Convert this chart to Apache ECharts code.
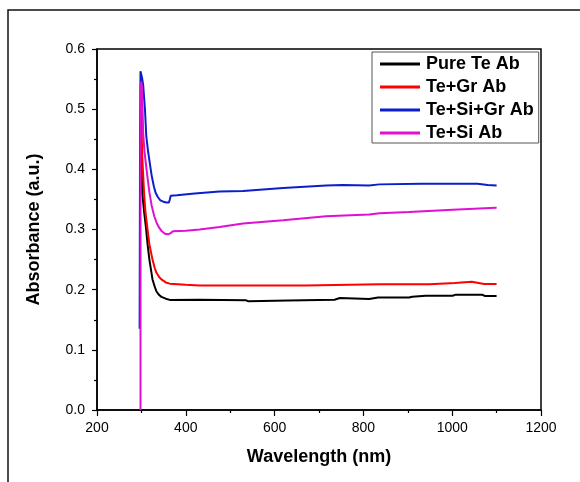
<!DOCTYPE html>
<html>
<head>
<meta charset="utf-8">
<script src="https://cdn.jsdelivr.net/npm/echarts@6/dist/echarts.min.js"></script>
<style>
  html, body { margin: 0; padding: 0; background: #fff; }
  #chart { width: 580px; height: 482px; }
</style>
</head>
<body>
<div id="chart"></div>
<script>
// wavelength (nm) / absorbance pairs
const pureTeX = [299, 301, 302, 306, 310, 314, 318, 325, 330, 334, 340, 345, 355, 364, 431, 535, 541, 545, 631, 634, 735, 747, 813, 833, 903, 910, 940, 1001, 1008, 1067, 1074, 1100]
const pureTeY = [0.45, 0.39, 0.361, 0.33, 0.305, 0.275, 0.25, 0.217, 0.205, 0.197, 0.191, 0.188, 0.185, 0.183, 0.1833, 0.1825, 0.1806, 0.182, 0.182, 0.1833, 0.1833, 0.1861, 0.1845, 0.187, 0.187, 0.1883, 0.19, 0.19, 0.1917, 0.1917, 0.1895, 0.1895]

const teGrX = [298, 300, 302, 306, 309, 313, 318, 325, 330, 334, 340, 345, 355, 364, 400, 431, 669, 672, 836, 948, 950, 1006, 1010, 1044, 1072, 1100]
const teGrY = [0.50, 0.48, 0.42, 0.361, 0.33, 0.305, 0.275, 0.25, 0.236, 0.228, 0.221, 0.217, 0.212, 0.21, 0.208, 0.207, 0.207, 0.209, 0.209, 0.209, 0.211, 0.211, 0.213, 0.213, 0.2095, 0.2095]

const teSiGrX = [296, 297, 298, 300, 302, 304, 308, 311, 315, 318, 323, 328, 332, 337, 342, 350, 356, 362, 364, 366, 380, 420, 476, 529, 619, 716, 753, 813, 836, 930, 1000, 1057, 1080, 1100]
const teSiGrY = [0.135, 0.465, 0.563, 0.56, 0.55, 0.54, 0.50, 0.455, 0.43, 0.415, 0.39, 0.372, 0.361, 0.354, 0.349, 0.346, 0.345, 0.345, 0.350, 0.356, 0.357, 0.360, 0.363, 0.364, 0.369, 0.373, 0.374, 0.373, 0.375, 0.376, 0.376, 0.376, 0.374, 0.373]

const teSiX = [298, 298, 300, 302, 304, 307, 310, 314, 318, 323, 329, 335, 340, 346, 353, 360, 366, 371, 400, 431, 476, 529, 619, 716, 813, 836, 903, 1001, 1098, 1100]
const teSiY = [0.0, 0.54, 0.545, 0.52, 0.46, 0.43, 0.41, 0.385, 0.362, 0.34, 0.322, 0.31, 0.303, 0.297, 0.293, 0.292, 0.294, 0.297, 0.298, 0.300, 0.304, 0.31, 0.3155, 0.322, 0.325, 0.327, 0.329, 0.333, 0.336, 0.336]

const seriesNames = ['Pure Te Ab', 'Te+Gr Ab', 'Te+Si+Gr Ab', 'Te+Si Ab']
const seriesColors = ['#000000', '#ff0000', '#0a1ecc', '#e010d0']

const xTicks = [200, 400, 600, 800, 1000, 1200]
const yTicks = [0.0, 0.1, 0.2, 0.3, 0.4, 0.5, 0.6]

const FONT = '"Liberation Sans", Arial, sans-serif'

function pairs(xs, ys) {
  return xs.map((x, i) => [x, ys[i]])
}

const chart = echarts.init(document.getElementById('chart'))

const allData = [
  pairs(pureTeX, pureTeY),
  pairs(teGrX, teGrY),
  pairs(teSiGrX, teSiGrY),
  pairs(teSiX, teSiY)
]

chart.setOption({
  backgroundColor: '#fff',
  animation: false,
  textStyle: { fontFamily: FONT },
  graphic: [{
    type: 'rect',
    shape: { x: 8, y: 10, width: 620, height: 520 },
    style: { fill: 'none', stroke: '#111', lineWidth: 1.5 },
    silent: true
  }],
  grid: {
    left: 97,
    right: 39,
    top: 49,
    bottom: 72,
    show: true,
    borderColor: '#000',
    borderWidth: 1.5,
    backgroundColor: 'transparent'
  },
  legend: {
    left: 372,
    top: 52,
    orient: 'vertical',
    padding: [3, 5, 1, 8],
    itemGap: 5,
    itemWidth: 40,
    itemHeight: 3,
    icon: 'rect',
    borderColor: '#555',
    borderWidth: 1,
    backgroundColor: '#fff',
    data: seriesNames,
    textStyle: {
      fontFamily: FONT,
      fontSize: 18,
      fontWeight: 'bold',
      color: '#000',
      lineHeight: 18,
      padding: [0, 0, 0, 1]
    }
  },
  xAxis: {
    type: 'value',
    min: xTicks[0],
    max: xTicks[xTicks.length - 1],
    interval: 200,
    name: 'Wavelength (nm)',
    nameLocation: 'middle',
    nameGap: 38,
    nameTextStyle: { fontFamily: FONT, fontSize: 18, fontWeight: 'bold', color: '#000' },
    axisLine: { show: true, lineStyle: { color: '#000', width: 1.5 } },
    axisTick: { show: true, inside: false, length: 6, lineStyle: { color: '#000', width: 1.2 } },
    minorTick: { show: true, splitNumber: 2, length: 3, lineStyle: { color: '#000', width: 1.2 } },
    axisLabel: {
      margin: 11,
      fontFamily: FONT,
      fontSize: 14,
      color: '#000',
      formatter: v => String(v)
    },
    splitLine: { show: false }
  },
  yAxis: {
    type: 'value',
    min: yTicks[0],
    max: yTicks[yTicks.length - 1],
    interval: 0.1,
    name: 'Absorbance (a.u.)',
    nameLocation: 'middle',
    nameGap: 54,
    nameTextStyle: { fontFamily: FONT, fontSize: 18, fontWeight: 'bold', color: '#000' },
    axisLine: { show: true, lineStyle: { color: '#000', width: 1.5 } },
    axisTick: { show: true, inside: false, length: 5, lineStyle: { color: '#000', width: 1.2 } },
    minorTick: { show: true, splitNumber: 2, length: 3, lineStyle: { color: '#000', width: 1.2 } },
    axisLabel: {
      margin: 12,
      fontFamily: FONT,
      fontSize: 14,
      color: '#000',
      formatter: v => v.toFixed(1)
    },
    splitLine: { show: false }
  },
  series: seriesNames.map((name, i) => ({
    name: name,
    type: 'line',
    data: allData[i],
    symbol: 'none',
    showSymbol: false,
    color: seriesColors[i],
    lineStyle: { color: seriesColors[i], width: 2 },
    z: 2 + i
  }))
})
</script>
</body>
</html>
